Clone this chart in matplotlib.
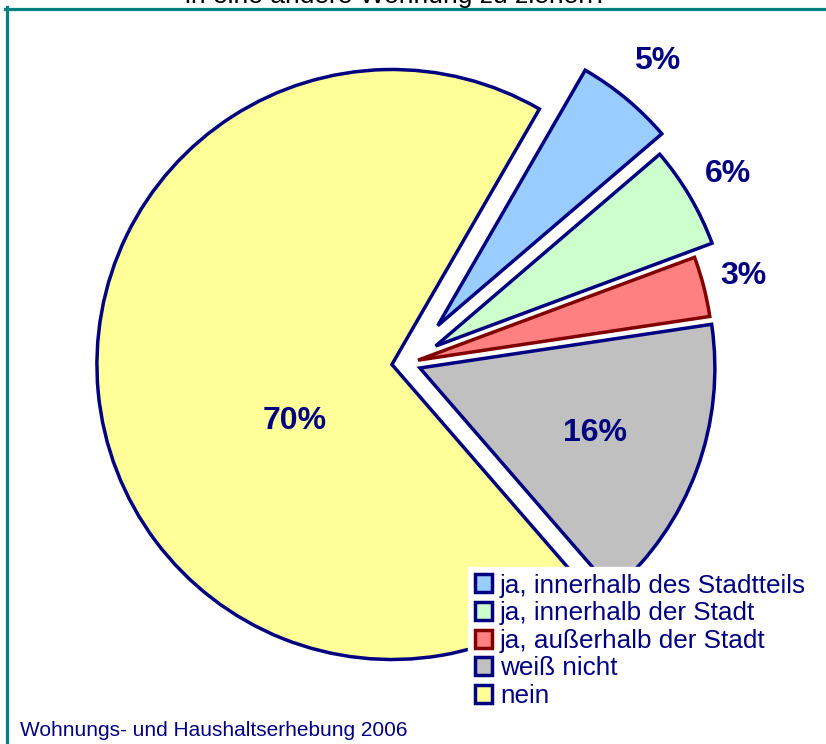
import numpy as np
from matplotlib import pyplot as plt
from matplotlib.lines import Line2D

plt.rcParams['font.family'] = ['Liberation Sans', 'DejaVu Sans']

# data
labels = ['ja, innerhalb des Stadtteils', 'ja, innerhalb der Stadt',
          'ja, außerhalb der Stadt', 'weiß nicht', 'nein']
shares = [5.4, 5.6, 3.3, 16.0, 69.7]
colors = ['#99CCFF', '#CCFFCC', '#FF8080', '#C0C0C0', '#FFFF99']
edges = ['#000080', '#000080', '#800000', '#000080', '#000080']
explode = [0.165, 0.114, 0.04, 0.048, 0.05]

# label placement (radius fraction, angle tweak in degrees)
label_dist = [1.33, 1.265, 1.18, 0.68, 0.426]
label_turn = [0, 0, 0, 0, 22]

title = 'in eine andere Wohnung zu ziehen?'
source = 'Wohnungs- und Haushaltserhebung 2006'

W, H = 826, 744
cx, cy, R = 406.6, 744 - 363.1, 295.0
navy = '#000080'

fig = plt.figure(figsize=(W / 100, H / 100), dpi=100)
ax = fig.add_axes([0, 0, 1, 1])

wedges, _ = ax.pie(shares, explode=explode, colors=colors, startangle=60,
                   counterclock=False,
                   wedgeprops=dict(linewidth=2.5, edgecolor=navy, joinstyle='miter'))
for w, ec in zip(wedges, edges):
    w.set_edgecolor(ec)

for w, v, d, t in zip(wedges, shares, label_dist, label_turn):
    a = np.deg2rad((w.theta1 + w.theta2) / 2 + t)
    ax.text(d * np.cos(a), d * np.sin(a), f'{v:.0f}%', ha='center', va='center',
            fontsize=23, fontweight='bold', color=navy)

ax.set_xlim(-cx / R, (W - cx) / R)
ax.set_ylim(-cy / R, (H - cy) / R)
ax.set_aspect('auto')
ax.axis('off')

leg = fig.legend(wedges, labels, loc='upper left',
                 bbox_to_anchor=(468 / W, 1 - 567 / H), borderaxespad=0,
                 fontsize=18.8, labelcolor=navy, frameon=True, fancybox=False,
                 facecolor='white', edgecolor='white', framealpha=1,
                 handlelength=0.68, handleheight=0.68, handletextpad=0.3,
                 labelspacing=0.14, borderpad=0.25)

# teal frame, open to the right and bottom
fig.add_artist(Line2D([5 / W, 1], [1 - 8.5 / H] * 2, color='#008080', lw=2.3,
                      transform=fig.transFigure))
fig.add_artist(Line2D([6.5 / W] * 2, [0, 1 - 7 / H], color='#008080', lw=2.3,
                      transform=fig.transFigure))

fig.text(396 / W, 1 - 3.5 / H, title, ha='center', va='baseline', fontsize=19,
         color='black')
fig.text(20 / W, 1 - 736 / H, source, ha='left', va='baseline', fontsize=15,
         color=navy)

fig.savefig('out.png', dpi=100)
